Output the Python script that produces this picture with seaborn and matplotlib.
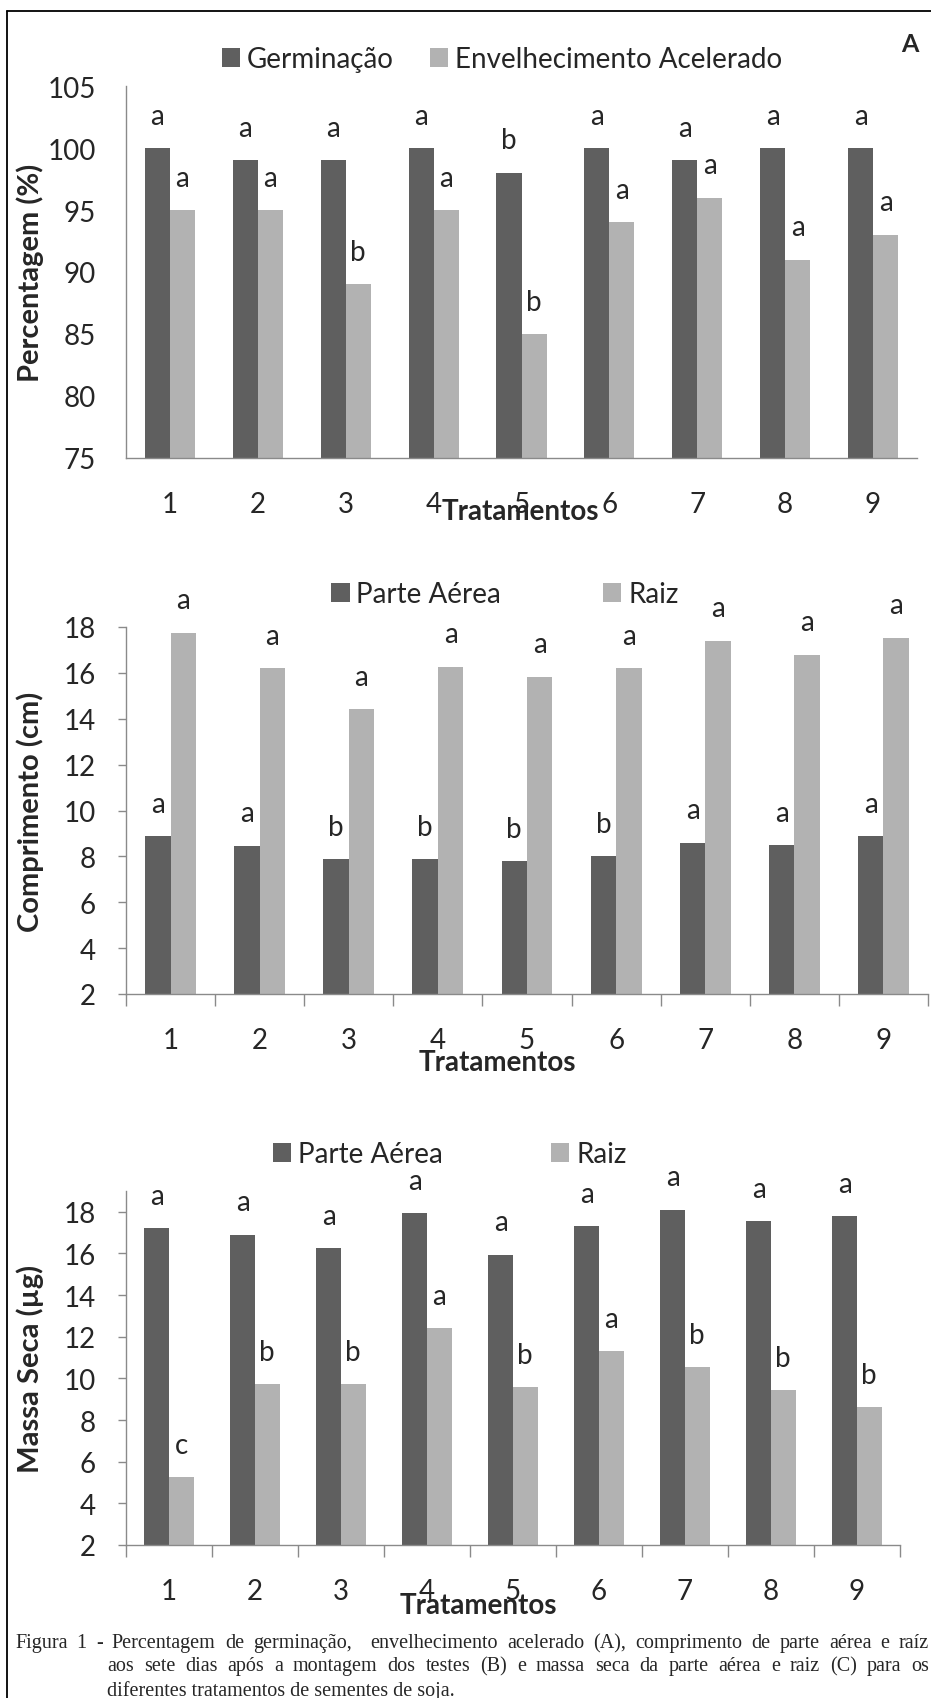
import matplotlib
matplotlib.use('Agg')
import matplotlib.pyplot as plt
import seaborn as sns
import pandas as pd
from matplotlib.lines import Line2D

# dados
tratamentos = ['1', '2', '3', '4', '5', '6', '7', '8', '9']

germinacao = [100, 99, 99, 100, 98, 100, 99, 100, 100]
envelhecimento = [95, 95, 89, 95, 85, 94, 96, 91, 93]
germinacao_let = ['a', 'a', 'a', 'a', 'b', 'a', 'a', 'a', 'a']
envelhecimento_let = ['a', 'a', 'b', 'a', 'b', 'a', 'a', 'a', 'a']

comp_aerea = [8.87, 8.47, 7.89, 7.89, 7.79, 8.02, 8.6, 8.5, 8.87]
comp_raiz = [17.75, 16.2, 14.43, 16.27, 15.83, 16.2, 17.4, 16.8, 17.53]
comp_aerea_let = ['a', 'a', 'b', 'b', 'b', 'b', 'a', 'a', 'a']
comp_raiz_let = ['a', 'a', 'a', 'a', 'a', 'a', 'a', 'a', 'a']

massa_aerea = [17.2, 16.9, 16.26, 17.94, 15.95, 17.3, 18.1, 17.56, 17.78]
massa_raiz = [5.27, 9.73, 9.73, 12.43, 9.57, 11.3, 10.55, 9.42, 8.63]
massa_aerea_let = ['a', 'a', 'a', 'a', 'a', 'a', 'a', 'a', 'a']
massa_raiz_let = ['c', 'b', 'b', 'a', 'b', 'a', 'b', 'b', 'b']

legenda_a = ['Germinação', 'Envelhecimento Acelerado']
legenda_bc = ['Parte Aérea', 'Raiz']

legenda_texto = [
    'Figura 1 - Percentagem de germinação,  envelhecimento acelerado (A), comprimento de parte aérea e raíz',
    'aos sete dias após a montagem dos testes (B) e massa seca da parte aérea e raiz (C) para os',
    'diferentes tratamentos de sementes de soja.',
]

escuro = '#5f5f5f'
claro = '#b2b2b2'
eixo_cor = '#8a8a8a'

W, H = 931, 1699
sns.set_style('white')
plt.rcParams['font.family'] = ['Lato', 'DejaVu Sans']

fig = plt.figure(figsize=(W / 100, H / 100), dpi=100)


def caixa(left, right, top, bottom):
    return [left / W, 1 - bottom / H, (right - left) / W, (bottom - top) / H]


def painel(box, s1, s2, nomes, let1, let2, ylim, yticks, ylabel, leg_x, leg_y, colsp,
           trat_xy, marcas=True):
    ax = fig.add_axes(box)
    df = pd.DataFrame({
        'Tratamento': tratamentos * 2,
        'Valor': list(s1) + list(s2),
        'Serie': [nomes[0]] * len(s1) + [nomes[1]] * len(s2),
    })
    sns.barplot(data=df, x='Tratamento', y='Valor', hue='Serie', palette=[escuro, claro],
                width=0.57, saturation=1, errorbar=None, linewidth=0, ax=ax)

    ax.set_ylim(*ylim)
    ax.set_xlim(-0.5, len(tratamentos) - 0.5)
    ax.set_yticks(yticks)
    ax.set_xlabel('')
    ax.set_ylabel('')
    for s in ['top', 'right']:
        ax.spines[s].set_visible(False)
    for s in ['left', 'bottom']:
        ax.spines[s].set_color(eixo_cor)
        ax.spines[s].set_linewidth(1.0)

    if marcas:
        ax.tick_params(axis='y', length=5.8, width=1, color=eixo_cor, pad=15.8,
                       labelsize=20, left=True)
        ax.set_xticks([i - 0.5 for i in range(len(tratamentos) + 1)], minor=True)
        ax.tick_params(axis='x', which='minor', length=8.6, width=1, color=eixo_cor,
                       bottom=True, direction='out')
    else:
        ax.tick_params(axis='y', length=0, pad=21.6, labelsize=20)
    ax.tick_params(axis='x', which='major', length=0, pad=24, labelsize=20)

    # letras de significancia
    for cont, lets in zip(ax.containers, [let1, let2]):
        for bar, l in zip(cont, lets):
            ax.annotate(l, (bar.get_x() + bar.get_width() / 2, bar.get_height()),
                        xytext=(0, 17.5), textcoords='offset points', ha='center',
                        va='baseline', fontsize=20, annotation_clip=False)

    handles, labels = ax.get_legend_handles_labels()
    ax.legend(handles, labels, ncol=2, loc='center', bbox_to_anchor=(leg_x / W, 1 - leg_y / H),
              bbox_transform=fig.transFigure, frameon=False, fontsize=20,
              handlelength=0.65, handleheight=0.65, handletextpad=0.25,
              columnspacing=colsp, borderpad=0, borderaxespad=0)

    fig.text(30 / W, box[1] + box[3] / 2, ylabel, rotation=90, ha='center', va='center',
             fontsize=21, fontweight='bold')
    fig.text(trat_xy[0] / W, 1 - trat_xy[1] / H, 'Tratamentos', ha='center', va='center',
             fontsize=20, fontweight='bold')
    return ax


painel(caixa(126, 917, 87, 459), germinacao, envelhecimento, legenda_a,
       germinacao_let, envelhecimento_let, (75, 105), range(75, 106, 5),
       'Percentagem (%)', 502, 60, 1.33, (520, 512), marcas=False)
fig.text(910 / W, 1 - 45 / H, 'A', ha='center', va='center', fontsize=18, fontweight='bold')

painel(caixa(126, 928, 628, 995), comp_aerea, comp_raiz, legenda_bc,
       comp_aerea_let, comp_raiz_let, (2, 18), range(2, 19, 2),
       'Comprimento (cm)', 505, 595, 3.67, (497, 1063))

painel(caixa(126, 900, 1192, 1546), massa_aerea, massa_raiz, legenda_bc,
       massa_aerea_let, massa_raiz_let, (2, 19), range(2, 19, 2),
       'Massa Seca (µg)', 450, 1155, 3.9, (478, 1606))

# moldura (cortada a direita e em baixo)
fig.add_artist(Line2D([7 / W, 7 / W], [0, 1 - 12 / H], color='black', lw=1.3))
fig.add_artist(Line2D([7 / W, 1], [1 - 12 / H, 1 - 12 / H], color='black', lw=1.3))

# legenda da figura, justificada
renderer = fig.canvas.get_renderer()


def linha_justificada(texto, x0, x1, y):
    palavras = texto.split(' ')
    objs = [fig.text(0, 1 - y / H, p, family='Liberation Serif', fontsize=14.5,
                     va='center', ha='left') for p in palavras]
    larg = [o.get_window_extent(renderer).width for o in objs]
    if len(objs) > 1:
        gap = (x1 - x0 - sum(larg)) / (len(objs) - 1)
    else:
        gap = 0
    x = x0
    for o, w in zip(objs, larg):
        o.set_x(x / W)
        x += w + gap


linha_justificada(legenda_texto[0], 15, 929, 1644)
linha_justificada(legenda_texto[1], 107, 929, 1667)
fig.text(107 / W, 1 - 1691 / H, legenda_texto[2], family='Liberation Serif', fontsize=14.5,
         va='center', ha='left')

fig.savefig('out.png', dpi=100)
